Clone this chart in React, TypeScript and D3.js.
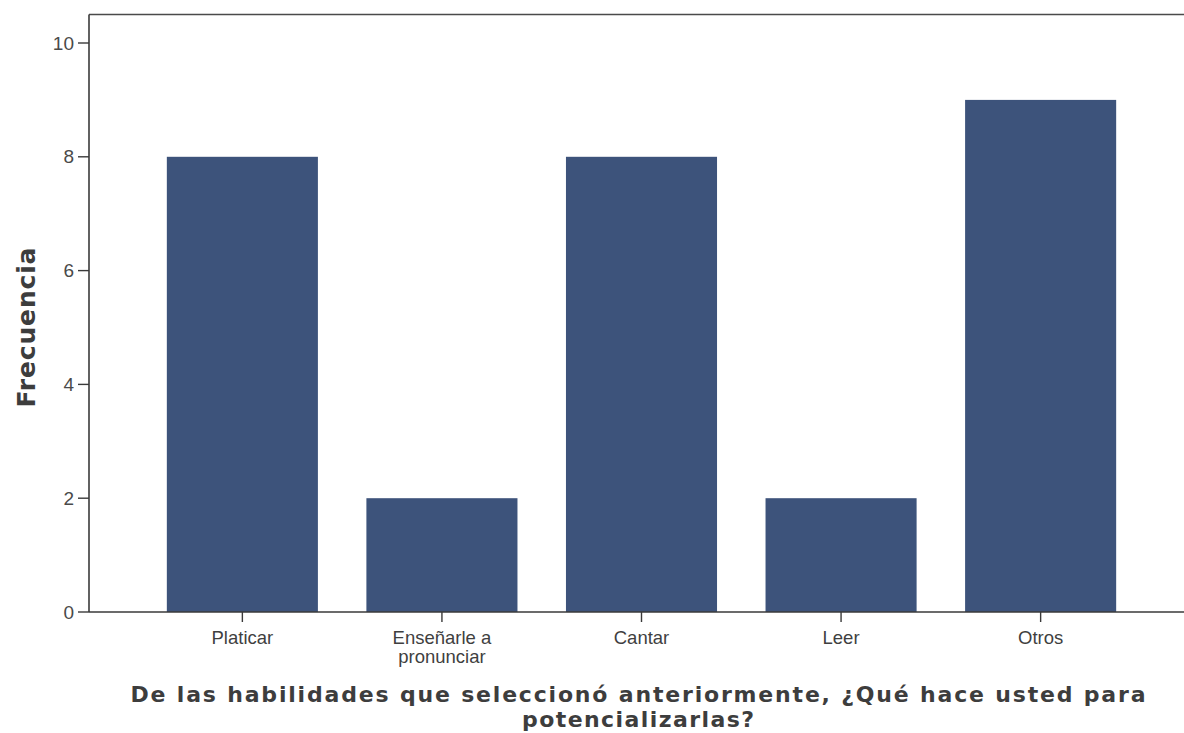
import React from "react";
import * as d3 from "d3";

const categories: string[][] = [
  ["Platicar"],
  ["Enseñarle a", "pronunciar"],
  ["Cantar"],
  ["Leer"],
  ["Otros"],
];
const frecuencias: number[] = [8, 2, 8, 2, 9];
const yTicks: number[] = [0, 2, 4, 6, 8, 10];
const yTitle = "Frecuencia";
const xTitle: string[] = [
  "De las habilidades que seleccionó anteriormente, ¿Qué hace usted para",
  "potencializarlas?",
];
const xTitleWidths: number[] = [1015, 232];

const W = 1184;
const H = 733;
const left = 89;
const right = 1194;
const zeroY = 612;

export default function App() {
  const keys = categories.map((c) => c.join(" "));
  const x = d3
    .scaleBand<string>()
    .domain(keys)
    .range([left, right])
    .paddingInner(0.243)
    .paddingOuter(0.39);
  const y = d3.scaleLinear().domain([0, 10]).range([zeroY, 43]);
  const topY = y(10.5);
  const tickFont = "'Liberation Sans', Arial, sans-serif";
  const titleFont = "'DejaVu Sans', Verdana, sans-serif";

  return (
    <svg
      width={W}
      height={H}
      style={{ position: "absolute", left: 0, top: 0, background: "#fff" }}
    >
      {/* frame top */}
      <line x1={left} x2={W} y1={topY} y2={topY} stroke="#4a4a4a" strokeWidth={1.6} />
      {/* bars */}
      {keys.map((k, i) => (
        <rect
          key={k}
          x={x(k)}
          y={y(frecuencias[i])}
          width={x.bandwidth()}
          height={zeroY - y(frecuencias[i])}
          fill="#3d537b"
        />
      ))}
      {/* y axis */}
      <line x1={left} x2={left} y1={topY} y2={zeroY} stroke="#3a3a3a" strokeWidth={1.6} />
      {yTicks.map((t) => (
        <g key={t}>
          <line x1={left - 11} x2={left} y1={y(t)} y2={y(t)} stroke="#3a3a3a" strokeWidth={1.4} />
          <text
            x={left - 15}
            y={y(t)}
            dy="0.35em"
            textAnchor="end"
            fontFamily={tickFont}
            fontSize={19}
            fill="#4a4a4a"
          >
            {t}
          </text>
        </g>
      ))}
      {/* x axis */}
      <line x1={left} x2={W} y1={zeroY} y2={zeroY} stroke="#3a3a3a" strokeWidth={1.6} />
      {keys.map((k, i) => {
        const cx = (x(k) as number) + x.bandwidth() / 2;
        return (
          <g key={k}>
            <line x1={cx} x2={cx} y1={zeroY} y2={zeroY + 10} stroke="#3a3a3a" strokeWidth={1.4} />
            {categories[i].map((ln, j) => (
              <text
                key={j}
                x={cx}
                y={644 + j * 19}
                textAnchor="middle"
                fontFamily={tickFont}
                fontSize={18.5}
                fill="#3f3f3f"
              >
                {ln}
              </text>
            ))}
          </g>
        );
      })}
      {/* y title */}
      <text
        transform={`translate(35, ${y(5.0)}) rotate(-90)`}
        textAnchor="middle"
        fontFamily={titleFont}
        fontWeight="bold"
        fontSize={25}
        textLength={160}
        lengthAdjust="spacing"
        fill="#3d3d3d"
      >
        {yTitle}
      </text>
      {/* x title */}
      {xTitle.map((ln, j) => (
        <text
          key={j}
          x={638}
          y={702 + j * 25}
          textAnchor="middle"
          fontFamily={titleFont}
          fontWeight="bold"
          fontSize={22}
          textLength={xTitleWidths[j]}
          lengthAdjust="spacing"
          fill="#3d3d3d"
        >
          {ln}
        </text>
      ))}
    </svg>
  );
}
